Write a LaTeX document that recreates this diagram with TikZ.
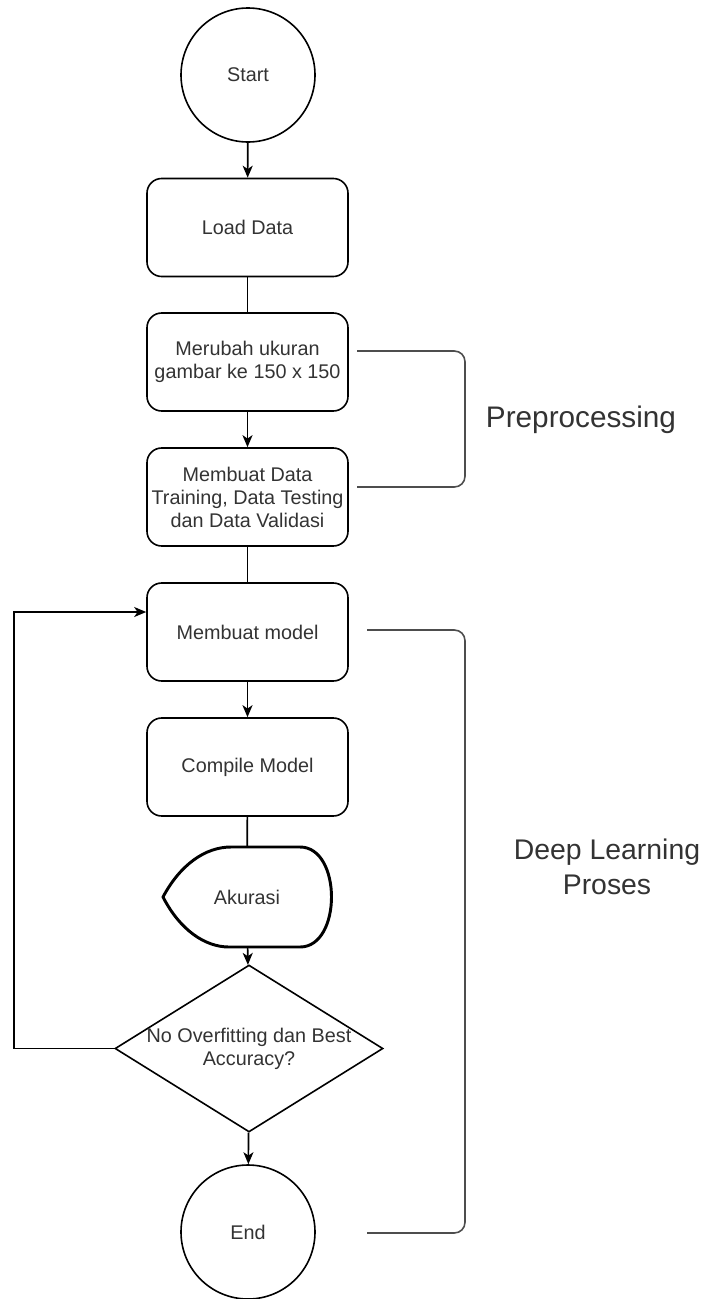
\documentclass[tikz,border=0pt]{standalone}
\usepackage{fontspec}
\setmainfont{Liberation Sans}
\usetikzlibrary{shapes.geometric,arrows.meta}
\definecolor{txtc}{HTML}{333333}
\definecolor{brkc}{HTML}{4D4D4D}
\newcommand\pxu[1]{#1*0.75pt}
\begin{document}
\begin{tikzpicture}[x=0.75pt,y=-0.75pt,
  base/.style={draw=black,line width=1.2pt,text=txtc,font=\fontsize{14.85}{17.3}\selectfont,align=center,inner sep=0pt},
  proc/.style={base,rectangle,rounded corners=11pt,minimum width=\pxu{201},minimum height=\pxu{98}},
  term/.style={base,circle,minimum size=\pxu{134}},
  arr/.style={draw=black,line width=1.2pt,-{Stealth[length=9pt,width=7.5pt,inset=2.5pt]}},
  ln/.style={draw=black,line width=1.2pt},
  brk/.style={draw=brkc,line width=1.2pt,rounded corners=8pt},
  big/.style={text=txtc,font=\fontsize{22.3}{26.3}\selectfont,align=center,inner sep=0pt}]
\useasboundingbox (0,0) rectangle (706,1299);
\node[term] (start) at (248,75) {Start};
\node[proc] (load) at (247.5,227.5) {Load Data};
\node[proc] (resize) at (247.5,362) {Merubah ukuran\\gambar ke 150 x 150};
\node[proc] (split) at (247.5,497) {Membuat Data\\Training, Data Testing\\dan Data Validasi};
\node[proc] (model) at (247.5,632) {Membuat model};
\node[proc] (compile) at (247.5,767) {Compile Model};
\node[base,draw=none,minimum width=\pxu{168},minimum height=\pxu{100}] (akurasi) at (247,897) {Akurasi};
\draw[line width=2.2pt,line join=round]
  (231,847) -- (300,847) .. controls (342,847) and (342,947) .. (300,947)
  -- (229,947) .. controls (205,947) and (180,930) .. (163,897)
  .. controls (180,865) and (205,847) .. (231,847) -- cycle;
\node[base,diamond,minimum width=\pxu{268},minimum height=\pxu{167}] (dec) at (249,1048.5) {};
\node[base,draw=none] (dectext) at (dec.center) {No Overfitting dan Best\\Accuracy?};
\node[term] (end) at (248,1232) {End};
\draw[arr] (start) -- (load);
\draw[ln] (load) -- (resize);
\draw[arr] (resize) -- (split);
\draw[ln] (split) -- (model);
\draw[arr] (model) -- (compile);
\draw[ln] (compile) -- (akurasi);
\draw[arr] (akurasi) -- (dec);
\draw[arr] (dec) -- (end);
\coordinate (loopc) at (14,612);
\draw[arr] (dec.west) -| (loopc) -- (model.west |- loopc);
\coordinate (p1) at (357,351);
\coordinate (p2) at (465,487);
\draw[brk] (p1) -- (p1 -| p2) -- (p2) -- (p2 -| p1);
\coordinate (d1) at (367,630);
\coordinate (d2) at (465,1233);
\draw[brk] (d1) -- (d1 -| d2) -- (d2) -- (d2 -| d1);
\node[big] (pre) at (581,420) {Preprocessing};
\node[big,font=\fontsize{21.3}{26.3}\selectfont] (dl) at (607,867) {Deep Learning\\Proses};
\end{tikzpicture}
\end{document}
